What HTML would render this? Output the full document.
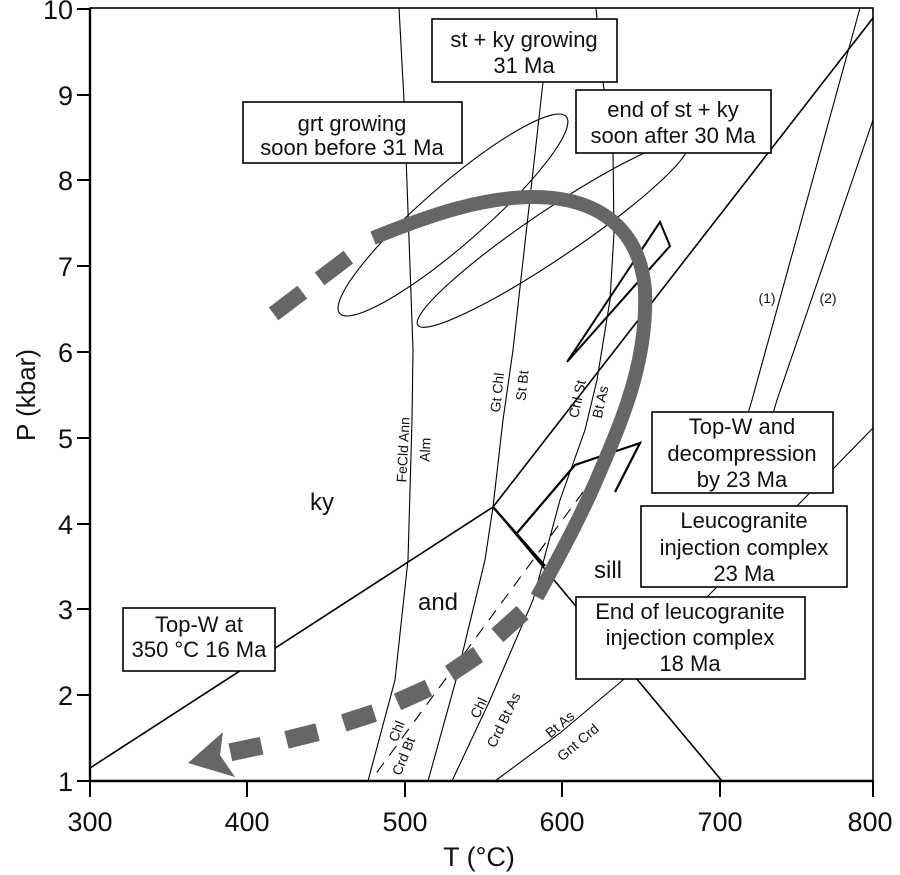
<!DOCTYPE html>
<html><head><meta charset="utf-8"><style>
html,body{margin:0;padding:0;background:#fff;}
svg{display:block;font-family:"Liberation Sans",sans-serif;}
</style></head><body>
<svg width="900" height="875" viewBox="0 0 900 875" xmlns="http://www.w3.org/2000/svg">
<rect width="900" height="875" fill="#fff"/>
<g fill="none" stroke="#000" stroke-width="1.1">
  <!-- ellipses -->
  <ellipse cx="453" cy="215" rx="150" ry="30" transform="rotate(-41 453 215)"/>
  <ellipse cx="553" cy="234" rx="163" ry="24" transform="rotate(-34 553 234)"/>
  <!-- FeCld -->
  <path d="M399,8 L404,100 L413,350 L412,420 L408,560 L395,680 L368,781"/>
  <!-- Gt Chl / St Bt -->
  <path d="M543,82 L513,350 L503,420 L493,507 L485,560 L456,680 L428,781"/>
  <!-- Chl St / Bt As -->
  <path d="M596,8 L603,82 L613,153 L614,233 L610,300 L597,380 L585,430 L560,500 L533,600 L490,700 L452,781"/>
  <!-- dashed -->
  <path d="M583,492 L372,779" stroke-dasharray="12 9"/>
  <!-- Bt As / Gnt Crd -->
  <path d="M495,781 L560,733 L623,680 L707,597 L797,506 L873,428"/>
  <!-- (1) (2) -->
  <path d="M860,8 L752,400 L746,420"/>
  <path d="M873,120 L777,400 L771,420"/>
</g>
<g fill="none" stroke="#000" stroke-width="1.6">
  <path d="M90,768 L493,507 L873,18"/>
  <path d="M493,507 L722,781"/>
  <path d="M493,507 L545,566" stroke-width="2.4"/>
  <path d="M517,533 L575,465 L640,443 L615,492" stroke-width="2.2"/>
  <polygon points="660,222 670,246 567,362" stroke-width="2"/>
</g>
<!-- PT path -->
<g stroke="#666" fill="none">
  <path d="M373,238 C430,215 480,198 530,197 C600,196 640,230 645,290 C648,360 622,420 602,467 C582,515 560,555 537,597" stroke-width="14"/>
</g>
<g fill="#666">
  <rect x="-18" y="-8" width="36" height="16" transform="translate(334,268) rotate(-37)"/>
  <rect x="-18" y="-8" width="36" height="16" transform="translate(288,303) rotate(-37)"/>
  <rect x="-17" y="-9" width="34" height="18" transform="translate(510,624) rotate(-42)"/>
  <rect x="-17" y="-9" width="34" height="18" transform="translate(464,664) rotate(-34)"/>
  <rect x="-17" y="-9" width="34" height="18" transform="translate(413,695) rotate(-24)"/>
  <rect x="-16" y="-9" width="32" height="18" transform="translate(359,718) rotate(-18)"/>
  <rect x="-16" y="-9" width="32" height="18" transform="translate(302,736) rotate(-14)"/>
  <rect x="-16" y="-9" width="32" height="18" transform="translate(246,749) rotate(-12)"/>
  <polygon points="188,763 223,732 220,755 235,777"/>
</g>
<!-- boxes -->
<g fill="#fff" stroke="#000" stroke-width="1.6">
  <rect x="432" y="19" width="185" height="63"/>
  <rect x="243" y="102" width="219" height="61"/>
  <rect x="576" y="90" width="195" height="63"/>
  <rect x="652" y="412" width="181" height="81"/>
  <rect x="641" y="506" width="206" height="81"/>
  <rect x="576" y="597" width="229" height="82"/>
  <rect x="123" y="608" width="152" height="63"/>
</g>
<g font-size="22" text-anchor="middle" fill="#111">
  <text x="524" y="47">st + ky growing</text>
  <text x="524" y="73">31 Ma</text>
  <text x="352" y="131">grt growing</text>
  <text x="352" y="155">soon before 31 Ma</text>
  <text x="673" y="117">end of st + ky</text>
  <text x="673" y="143">soon after 30 Ma</text>
  <text x="742" y="434">Top-W and</text>
  <text x="742" y="461">decompression</text>
  <text x="742" y="487">by 23 Ma</text>
  <text x="744" y="528">Leucogranite</text>
  <text x="744" y="555">injection complex</text>
  <text x="744" y="581">23 Ma</text>
  <text x="690" y="619">End of leucogranite</text>
  <text x="690" y="645">injection complex</text>
  <text x="690" y="671">18 Ma</text>
  <text x="199" y="632">Top-W at</text>
  <text x="199" y="657">350 °C 16 Ma</text>
  <text x="322" y="510" font-size="24">ky</text>
  <text x="438" y="610" font-size="24">and</text>
  <text x="608" y="578" font-size="24">sill</text>
</g>
<g font-size="14" text-anchor="middle" fill="#111">
  <text transform="translate(408,450) rotate(-87)">FeCld Ann</text>
  <text transform="translate(430,450) rotate(-87)">Alm</text>
  <text transform="translate(502,393) rotate(-84)">Gt Chl</text>
  <text transform="translate(527,386) rotate(-84)">St Bt</text>
  <text transform="translate(582,400) rotate(-78)">Chl St</text>
  <text transform="translate(605,403) rotate(-78)">Bt As</text>
  <text transform="translate(401,733) rotate(-68)">Chl</text>
  <text transform="translate(408,758) rotate(-68)">Crd Bt</text>
  <text transform="translate(483,710) rotate(-64)">Chl</text>
  <text transform="translate(508,722) rotate(-64)">Crd Bt As</text>
  <text transform="translate(563,728) rotate(-40)">Bt As</text>
  <text transform="translate(581,746) rotate(-40)">Gnt Crd</text>
  <text x="767" y="303">(1)</text>
  <text x="828" y="303">(2)</text>
</g>
<!-- frame and axes -->
<g fill="none" stroke="#000">
  <rect x="90" y="8" width="783" height="773" stroke-width="1.6"/>
  <line x1="90" y1="781" x2="873" y2="781" stroke-width="2.4"/>
  <line x1="90" y1="8" x2="90" y2="781" stroke-width="2.4"/>
  <g stroke-width="2">
    <line x1="90" y1="781" x2="90" y2="797"/><line x1="247" y1="781" x2="247" y2="797"/>
    <line x1="405" y1="781" x2="405" y2="797"/><line x1="562" y1="781" x2="562" y2="797"/>
    <line x1="720" y1="781" x2="720" y2="797"/><line x1="873" y1="781" x2="873" y2="797"/>
    <line x1="77" y1="9" x2="90" y2="9"/><line x1="77" y1="95" x2="90" y2="95"/>
    <line x1="77" y1="180" x2="90" y2="180"/><line x1="77" y1="266" x2="90" y2="266"/>
    <line x1="77" y1="352" x2="90" y2="352"/><line x1="77" y1="438" x2="90" y2="438"/>
    <line x1="77" y1="524" x2="90" y2="524"/><line x1="77" y1="609" x2="90" y2="609"/>
    <line x1="77" y1="695" x2="90" y2="695"/><line x1="77" y1="781" x2="90" y2="781"/>
  </g>
</g>
<g font-size="27" fill="#111">
  <g text-anchor="middle">
    <text x="90" y="831">300</text><text x="247" y="831">400</text><text x="405" y="831">500</text>
    <text x="562" y="831">600</text><text x="720" y="831">700</text><text x="870" y="831">800</text>
    <text x="479" y="866">T (°C)</text>
  </g>
  <g text-anchor="end">
    <text x="73" y="19">10</text><text x="73" y="105">9</text><text x="73" y="190">8</text>
    <text x="73" y="276">7</text><text x="73" y="362">6</text><text x="73" y="448">5</text>
    <text x="73" y="534">4</text><text x="73" y="619">3</text><text x="73" y="705">2</text>
    <text x="73" y="791">1</text>
  </g>
  <text transform="translate(35,395) rotate(-90)" text-anchor="middle" font-size="26">P (kbar)</text>
</g>
</svg>
</body></html>
